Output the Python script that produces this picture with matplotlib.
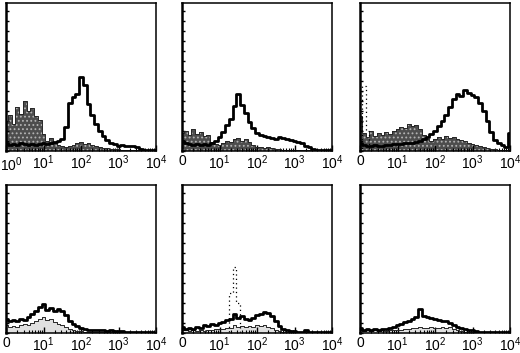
import numpy as np
import matplotlib
matplotlib.use("Agg")
from matplotlib import pyplot as plt
from matplotlib import transforms

plt.rcParams['font.family'] = ['Liberation Sans', 'DejaVu Sans']
plt.rcParams['mathtext.fontset'] = 'custom'
plt.rcParams['mathtext.rm'] = 'Liberation Sans'
plt.rcParams['mathtext.it'] = 'Liberation Sans'
plt.rcParams['hatch.linewidth'] = 0.8

# bin centres in decades (log10 of fluorescence), 0.1 decade wide
channel = np.arange(41) * 0.1

# counts (arbitrary units, axis height = 148)
stained_1 = [8, 6, 7, 6, 8, 7, 6, 7, 6, 7, 8, 7, 8, 9, 10, 12, 24, 48, 54, 57, 74,
             66, 47, 36, 27, 20, 15, 11, 8, 7, 5, 6, 5, 5, 5, 4, 2, 1, 1, 1, 1]
control_1 = [30, 36, 27, 44, 37, 50, 40, 43, 35, 31, 17, 10, 13, 8, 6, 5, 4, 5, 6, 8, 9,
             7, 8, 6, 5, 4, 3, 3, 2, 2, 2, 1, 1, 1, 1, 1, 0, 0, 0, 0, 0]

stained_2 = [10, 8, 7, 6, 7, 6, 7, 6, 8, 10, 14, 19, 26, 32, 45, 57, 46, 38, 29, 23, 18,
             16, 15, 14, 13, 12, 14, 13, 12, 11, 10, 9, 8, 5, 4, 2, 1, 1, 1, 1, 1]
control_2 = [18, 20, 16, 22, 17, 19, 15, 16, 9, 7, 6, 8, 10, 9, 12, 13, 10, 12, 9, 6, 4,
             4, 3, 4, 3, 2, 2, 1, 1, 1, 1, 1, 1, 1, 1, 0, 0, 0, 0, 0, 0]

stained_3 = [8, 6, 5, 5, 6, 5, 5, 6, 6, 7, 7, 7, 8, 8, 8, 9, 10, 12, 14, 17, 20,
             25, 30, 36, 44, 52, 57, 55, 61, 58, 56, 54, 48, 40, 30, 19, 11, 8, 6, 4, 18]
control_3 = [35, 18, 14, 20, 15, 18, 16, 19, 17, 20, 22, 24, 23, 27, 25, 26, 22, 16, 12, 10, 12,
             14, 12, 15, 13, 14, 12, 11, 10, 8, 7, 6, 5, 4, 3, 2, 2, 1, 1, 1, 1]
dotted_3 = [0, 65, 20, 0, 0, 0, 0, 0, 0, 0, 0, 0, 0, 0, 0, 0, 0, 0, 0, 0, 0,
            0, 0, 0, 0, 0, 0, 0, 0, 0, 0, 0, 0, 0, 0, 0, 0, 0, 0, 0, 0]

stained_4 = [14, 12, 13, 12, 14, 13, 16, 19, 22, 26, 29, 23, 25, 22, 24, 22, 18, 12, 9, 7, 5,
             4, 3, 3, 3, 3, 3, 2, 3, 2, 2, 2, 1, 1, 1, 1, 1, 1, 1, 1, 0]
control_4 = [8, 6, 7, 6, 8, 9, 8, 10, 12, 14, 16, 13, 14, 11, 9, 8, 6, 4, 3, 2, 2,
             1, 1, 1, 1, 1, 1, 1, 1, 1, 1, 1, 0, 0, 0, 0, 0, 0, 0, 0, 0]

stained_5 = [6, 4, 5, 4, 6, 5, 8, 7, 9, 8, 10, 11, 13, 14, 19, 15, 17, 14, 13, 15, 18,
             19, 21, 20, 17, 12, 7, 4, 3, 2, 2, 1, 1, 3, 1, 1, 1, 1, 1, 1, 1]
control_5 = [3, 3, 2, 3, 2, 3, 2, 3, 3, 4, 4, 4, 5, 5, 8, 6, 7, 6, 7, 6, 8,
             7, 8, 6, 5, 3, 2, 1, 1, 1, 1, 1, 1, 1, 1, 1, 0, 0, 0, 0, 0]
dotted_5 = [0, 0, 0, 0, 0, 0, 0, 0, 0, 0, 0, 0, 0, 40, 66, 30, 0, 0, 0, 0, 0,
            0, 0, 0, 0, 0, 0, 0, 0, 0, 0, 0, 0, 0, 0, 0, 0, 0, 0, 0, 0]

stained_6 = [5, 3, 4, 3, 4, 3, 4, 4, 5, 6, 8, 9, 11, 12, 14, 16, 24, 17, 16, 15, 14,
             13, 12, 12, 10, 8, 6, 5, 4, 3, 3, 2, 1, 1, 1, 1, 1, 1, 1, 1, 1]
control_6 = [3, 2, 3, 2, 3, 2, 3, 2, 3, 3, 3, 3, 4, 4, 5, 5, 6, 5, 5, 6, 5,
             5, 6, 5, 6, 4, 3, 2, 1, 1, 1, 1, 1, 1, 1, 1, 0, 0, 0, 0, 0]

first_labels = ["$10^0$", "$10^1$", "$10^2$", "$10^3$", "$10^4$"]
other_labels = ["0", "$10^1$", "$10^2$", "$10^3$", "$10^4$"]

panels = [
    (stained_1, control_1, None, first_labels),
    (stained_2, control_2, None, other_labels),
    (stained_3, control_3, dotted_3, other_labels),
    (stained_4, control_4, None, other_labels),
    (stained_5, control_5, dotted_5, other_labels),
    (stained_6, control_6, None, other_labels),
]

# axes boxes in pixels: left, top, width, height
W, H = 520, 353
lefts = [6, 182, 360]
tops = [3, 185]
pw, ph = 150, 148

fig = plt.figure(figsize=(W / 100, H / 100), dpi=100)

minor = [d + np.log10(k) for d in range(4) for k in range(2, 10)]

for i, (stained, control, dotted, labels) in enumerate(panels):
    row, col = divmod(i, 3)
    l, t = lefts[col], tops[row]
    ax = fig.add_axes([l / W, (H - t - ph) / H, pw / W, ph / H])

    # isotype controls: dark speckled on top row, pale on bottom row
    if row == 0:
        ax.fill_between(channel, control, step='mid', facecolor='0.3',
                        edgecolor='0.7', hatch='....', lw=0)
    else:
        ax.fill_between(channel, control, step='mid', color='0.88', lw=0)
    ax.step(channel, control, where='mid', color='0.15', lw=0.7)
    if dotted is not None:
        ax.step(channel, dotted, where='mid', color='black', lw=0.9, ls=(0, (1, 2.5)))
    ax.step(channel, stained, where='mid', color='black', lw=2.0)

    ax.set_xlim(0, 4)
    ax.set_ylim(0, 148)
    ax.set_xticks(range(5))
    ax.set_xticks(minor, minor=True)
    if i == 0:
        # first label sits against the page edge
        ax.set_xticklabels([""] + labels[1:], fontsize=10)
        trans = transforms.blended_transform_factory(ax.transAxes, ax.transAxes) + \
            transforms.ScaledTranslation(-6 / 100, -4 / 100, fig.dpi_scale_trans)
        ax.text(0, 0, labels[0], transform=trans, ha='left', va='top', fontsize=10)
    else:
        ax.set_xticklabels(labels, fontsize=10)
    ax.set_yticks(np.arange(0, 148, 10))
    ax.set_yticklabels([])
    ax.tick_params(axis='x', which='major', direction='in', length=4, width=1, pad=2)
    ax.tick_params(axis='x', which='minor', direction='in', length=2.5, width=0.8)
    ax.tick_params(axis='y', direction='in', length=2.5, width=1)
    for side in ['top', 'right', 'bottom']:
        ax.spines[side].set_linewidth(1.1)
    ax.spines['left'].set_linewidth(1.8)

fig.savefig("out.png", dpi=100)
